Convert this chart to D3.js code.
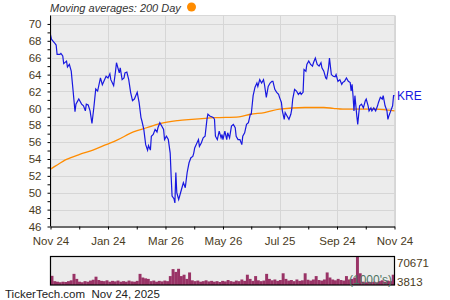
<!DOCTYPE html>
<html>
<head>
<meta charset="utf-8">
<script src="https://cdn.jsdelivr.net/npm/d3@7"></script>
<style>
body { margin: 0; background: #fff; }
text { font-family: "Liberation Sans", Arial, sans-serif; }
</style>
</head>
<body>
<svg id="chart" width="450" height="300"></svg>
<script>
// chart data
var startDate = "2024-11-24";
var endDate = "2025-11-24";
var xTickDates = ["2024-11-24", "2025-01-24", "2025-03-26", "2025-05-26", "2025-07-25", "2025-09-24", "2025-11-24"];
var xTickLabels = ["Nov 24", "Jan 24", "Mar 26", "May 26", "Jul 25", "Sep 24", "Nov 24"];
var yTicks = [46, 48, 50, 52, 54, 56, 58, 60, 62, 64, 66, 68, 70];
var volTicks = [3813, 70671];

// KRE close, days since start date
var priceDay = [0, 1, 4, 6, 7, 10, 11, 13, 14, 17, 18, 20, 22, 24, 26, 27, 30, 33, 35, 37, 38, 40, 42, 44, 46, 48, 50, 53, 55, 57, 59, 61, 63, 64, 67, 69, 70, 73, 74, 76, 78, 79, 81, 83, 85, 87, 89, 92, 94, 96, 97, 99, 101, 103, 104, 106, 107, 109, 111, 113, 114, 116, 118, 120, 121, 123, 125, 127, 128, 129, 131, 132, 133, 134, 136, 138, 140, 141, 143, 145, 147, 149, 151, 152, 153, 157, 158, 160, 162, 164, 166, 167, 169, 171, 173, 174, 175, 177, 179, 181, 182, 183, 185, 187, 188, 190, 192, 194, 196, 197, 199, 201, 203, 204, 206, 208, 210, 212, 213, 215, 217, 219, 220, 222, 224, 226, 227, 229, 231, 233, 235, 236, 238, 240, 242, 243, 245, 246, 248, 249, 251, 253, 255, 256, 257, 259, 261, 263, 265, 266, 268, 269, 271, 272, 274, 276, 278, 279, 281, 283, 285, 287, 288, 290, 292, 293, 295, 296, 298, 300, 302, 303, 305, 307, 309, 310, 312, 314, 316, 318, 319, 320, 321, 322, 323, 325, 326, 327, 328, 330, 332, 334, 335, 337, 338, 340, 341, 343, 345, 347, 348, 350, 352, 353, 355, 357, 358, 359, 361, 363, 364, 365];
var priceVal = [68.7, 68.2, 67.8, 67.5, 66.4, 66.4, 66.5, 66.2, 65.3, 65.6, 64.9, 65.2, 64.4, 62.05, 59.6, 60.5, 61.1, 60.5, 60.3, 59.7, 60.5, 60.4, 59.7, 58.2, 60.1, 62.3, 62.05, 63.6, 62.8, 63.3, 63.8, 63.6, 64.1, 63.4, 62.7, 64.4, 65.4, 64.2, 64.8, 63.4, 63.6, 64.2, 64.3, 63.4, 61.9, 60.9, 61.1, 61.9, 60.7, 58.9, 58.5, 57.5, 55.7, 55.05, 55.6, 55.05, 56.7, 56.9, 57.5, 57.2, 57.7, 58.3, 57.9, 57.5, 56.3, 56.7, 56.3, 54.7, 52, 49.6, 49.3, 48.8, 52.4, 50, 49.2, 50, 50.8, 51.2, 50.6, 52.4, 53.55, 54.15, 54.3, 54.7, 55.3, 56.3, 55.5, 55.9, 56.5, 56.7, 58.7, 59.3, 59.1, 59.0, 58.9, 58.7, 56.7, 56.3, 57.3, 56.5, 56.9, 56.3, 57.3, 56.3, 57.1, 56.5, 57.9, 58.1, 57.7, 56.7, 56.3, 56.3, 55.7, 56.7, 57.1, 58.1, 58.3, 59.3, 59.3, 61.5, 62.5, 63.0, 62.6, 63.4, 63.0, 63.4, 62.85, 61.3, 62.6, 63.0, 63.2, 63.2, 62.25, 61.9, 61.65, 61.3, 60.7, 59.7, 58.7, 59.5, 59.1, 58.7, 59.3, 59.9, 61.1, 62.25, 62.05, 61.65, 61.9, 61.65, 61.9, 64.6, 64.4, 65.2, 65.6, 65.2, 65.0, 65.4, 65.95, 65.2, 65.0, 65.4, 64.8, 64.4, 63.6, 63.5, 64.8, 65.95, 64.0, 63.8, 63.75, 64.0, 63.2, 63.4, 62.85, 63.05, 63.2, 63.6, 63.2, 63.05, 62.05, 62.85, 61.5, 59.7, 61.5, 59.1, 58.1, 59.3, 60.3, 60.5, 60.05, 60.9, 61.1, 60.3, 59.7, 60.05, 59.7, 60.05, 59.7, 60.3, 60.7, 61.3, 61.1, 61.5, 60.3, 59.7, 58.7, 59.1, 59.7, 60.3, 61.5, 61.5];

// 200 day moving average
var maDay = [0, 5, 17, 31, 45, 59, 70, 88, 102, 116, 135, 150, 175, 200, 212, 227, 243, 270, 290, 300, 310, 345, 365];
var maVal = [52.8, 53.15, 53.95, 54.55, 55.05, 55.7, 56.2, 57.2, 57.7, 58.2, 58.55, 58.7, 58.9, 59.0, 59.3, 59.5, 59.9, 60.1, 60.1, 60.0, 59.9, 59.9, 59.7];

// volume (1000's), two trading days per bar
var volume = [24500, 11800, 10500, 9200, 10500, 9800, 11800, 13800, 29200, 17200,
    10500, 9200, 11800, 10500, 13200, 15200, 22500, 14500, 12500, 11800,
    13800, 10500, 12500, 11200, 13200, 10500, 11800, 10500, 13200, 11200,
    10500, 12500, 29200, 20500, 18500, 17200, 11800, 13200, 10500, 12500,
    11200, 13200, 11800, 23900, 40600, 33900, 41300, 23900, 27200, 17200,
    32600, 13800, 11800, 13200, 10500, 11800, 13800, 11200, 12500, 10500,
    11800, 9800, 12500, 11200, 14500, 11800, 10500, 13200, 11800, 15800,
    12500, 27200, 17200, 12500, 23900, 13800, 11800, 13200, 29200, 17200,
    13800, 15800, 12500, 14500, 30600, 17200, 13200, 14500, 11800, 15800,
    12500, 13800, 30600, 15200, 13200, 15800, 23900, 14500, 13200, 15800,
    32600, 20500, 15800, 13800, 17200, 14500, 13200, 23900, 15800, 17200,
    20500, 70671, 30600, 10500, 9200, 10500, 9800, 10500, 9200, 11800,
    13800, 10500, 13200, 11800, 27200];

var svg = d3.select("#chart");
var parse = d3.timeParse("%Y-%m-%d");
var t0 = parse(startDate);

var plotLeft = 50.5, plotRight = 394.5, plotTop = 15.5, plotBottom = 226.5;

// scales
var x = d3.scaleTime()
    .domain([t0, parse(endDate)])
    .range([plotLeft, plotRight]);
var y = d3.scaleLinear()
    .domain([46, 71])
    .range([plotBottom, plotTop]);

// plot background
svg.append("rect")
    .attr("x", plotLeft).attr("y", plotTop)
    .attr("width", plotRight - plotLeft).attr("height", plotBottom - plotTop)
    .attr("fill", "#ececec")
    .attr("stroke", "#d8d8d8");

// grid
var tickDates = xTickDates.map(parse);
svg.append("g").selectAll("line")
    .data(yTicks)
    .enter().append("line")
    .attr("x1", plotLeft).attr("x2", plotRight)
    .attr("y1", function(d) { return Math.round(y(d)) + 0.5; })
    .attr("y2", function(d) { return Math.round(y(d)) + 0.5; })
    .attr("stroke", "#d6d6d6");
svg.append("g").selectAll("line")
    .data(tickDates)
    .enter().append("line")
    .attr("x1", function(d) { return Math.round(x(d)) + 0.5; })
    .attr("x2", function(d) { return Math.round(x(d)) + 0.5; })
    .attr("y1", plotTop).attr("y2", plotBottom)
    .attr("stroke", "#d6d6d6");

// lines
var dayDate = function(d) { return d3.timeDay.offset(t0, d); };
var maLine = d3.line()
    .x(function(d, i) { return x(dayDate(maDay[i])); })
    .y(function(d) { return y(d); })
    .curve(d3.curveMonotoneX);
svg.append("path")
    .datum(maVal)
    .attr("d", maLine)
    .attr("fill", "none")
    .attr("stroke", "#ff8c00")
    .attr("stroke-width", 1.3);

var priceLine = d3.line()
    .x(function(d, i) { return x(dayDate(priceDay[i])); })
    .y(function(d) { return y(d); });
svg.append("path")
    .datum(priceVal)
    .attr("d", priceLine)
    .attr("fill", "none")
    .attr("stroke", "#1818e0")
    .attr("stroke-width", 1.2);

// axes
var labelColor = "#4a3b1c";
var minorY = d3.range(47, 71, 2);
svg.append("g")
    .attr("transform", "translate(" + plotLeft + ",0)")
    .call(d3.axisLeft(y).tickValues(minorY).tickSize(3).tickFormat(""))
    .call(function(g) { g.select(".domain").remove(); });
var gY = svg.append("g")
    .attr("transform", "translate(" + plotLeft + ",0)")
    .call(d3.axisLeft(y).tickValues(yTicks).tickSize(3).tickPadding(6).tickSizeOuter(0));
gY.select(".domain").attr("d", "M0," + plotTop + "V" + plotBottom);

var minorX = [];
for (var i = 0; i < tickDates.length - 1; i++) {
    minorX.push(new Date((tickDates[i].getTime() + tickDates[i + 1].getTime()) / 2));
}
svg.append("g")
    .attr("transform", "translate(0," + plotBottom + ")")
    .call(d3.axisBottom(x).tickValues(minorX).tickSize(3).tickFormat(""))
    .call(function(g) { g.select(".domain").remove(); });
var gX = svg.append("g")
    .attr("transform", "translate(0," + plotBottom + ")")
    .call(d3.axisBottom(x).tickValues(tickDates).tickSize(3).tickPadding(7).tickSizeOuter(0)
        .tickFormat(function(d, i) { return xTickLabels[i]; }));

svg.selectAll(".tick text")
    .attr("fill", labelColor)
    .style("font-size", "11.5px")
    .style("font-family", "Liberation Sans, Arial, sans-serif");
svg.selectAll(".domain, .tick line").attr("stroke", "#000");

// legend
svg.append("text")
    .attr("x", 50).attr("y", 12)
    .attr("fill", "#333")
    .style("font-size", "11px")
    .style("font-style", "italic")
    .text("Moving averages: 200 Day");
svg.append("circle")
    .attr("cx", 191.5).attr("cy", 7).attr("r", 4.5)
    .attr("fill", "#ff8c00");

svg.append("text")
    .attr("x", 397)
    .attr("y", y(priceVal[priceVal.length - 1]) + 4.5)
    .attr("fill", "#1818e0")
    .style("font-size", "12px")
    .text("KRE");

// volume panel
var vTop = 256.5, vBottom = 285;
var yv = d3.scaleLinear().domain(volTicks).range([vBottom - 0.5, vTop]);
var xv = d3.scaleBand().domain(d3.range(volume.length)).range([plotLeft, plotRight]).padding(0);

svg.append("rect")
    .attr("x", plotLeft).attr("y", vTop)
    .attr("width", plotRight - plotLeft).attr("height", vBottom - vTop)
    .attr("fill", "#ececec");
svg.append("g").selectAll("rect")
    .data(volume)
    .enter().append("rect")
    .attr("x", function(d, i) { return xv(i); })
    .attr("width", xv.bandwidth() + 0.2)
    .attr("y", function(d) { return yv(d); })
    .attr("height", function(d) { return vBottom - yv(d); })
    .attr("fill", "#993366");
svg.append("rect")
    .attr("x", plotLeft).attr("y", vTop)
    .attr("width", plotRight - plotLeft).attr("height", vBottom - vTop)
    .attr("fill", "none")
    .attr("stroke", "#000")
    .attr("stroke-width", 1.2);

svg.append("text")
    .attr("x", 392).attr("y", 284)
    .attr("text-anchor", "end")
    .attr("fill", "#4f7464")
    .style("font-size", "12px")
    .text("(1000's)");

svg.selectAll(".vlabel")
    .data(volTicks)
    .enter().append("text")
    .attr("x", 397)
    .attr("y", function(d, i) { return i == 1 ? yv(d) + 10 : yv(d) + 1; })
    .attr("fill", labelColor)
    .style("font-size", "11.5px")
    .text(function(d) { return d; });

// footer
svg.append("text")
    .attr("x", 5).attr("y", 298)
    .attr("fill", "#222")
    .style("font-size", "11.5px")
    .attr("xml:space", "preserve")
    .text("TickerTech.com  Nov 24, 2025");
</script>
</body>
</html>
